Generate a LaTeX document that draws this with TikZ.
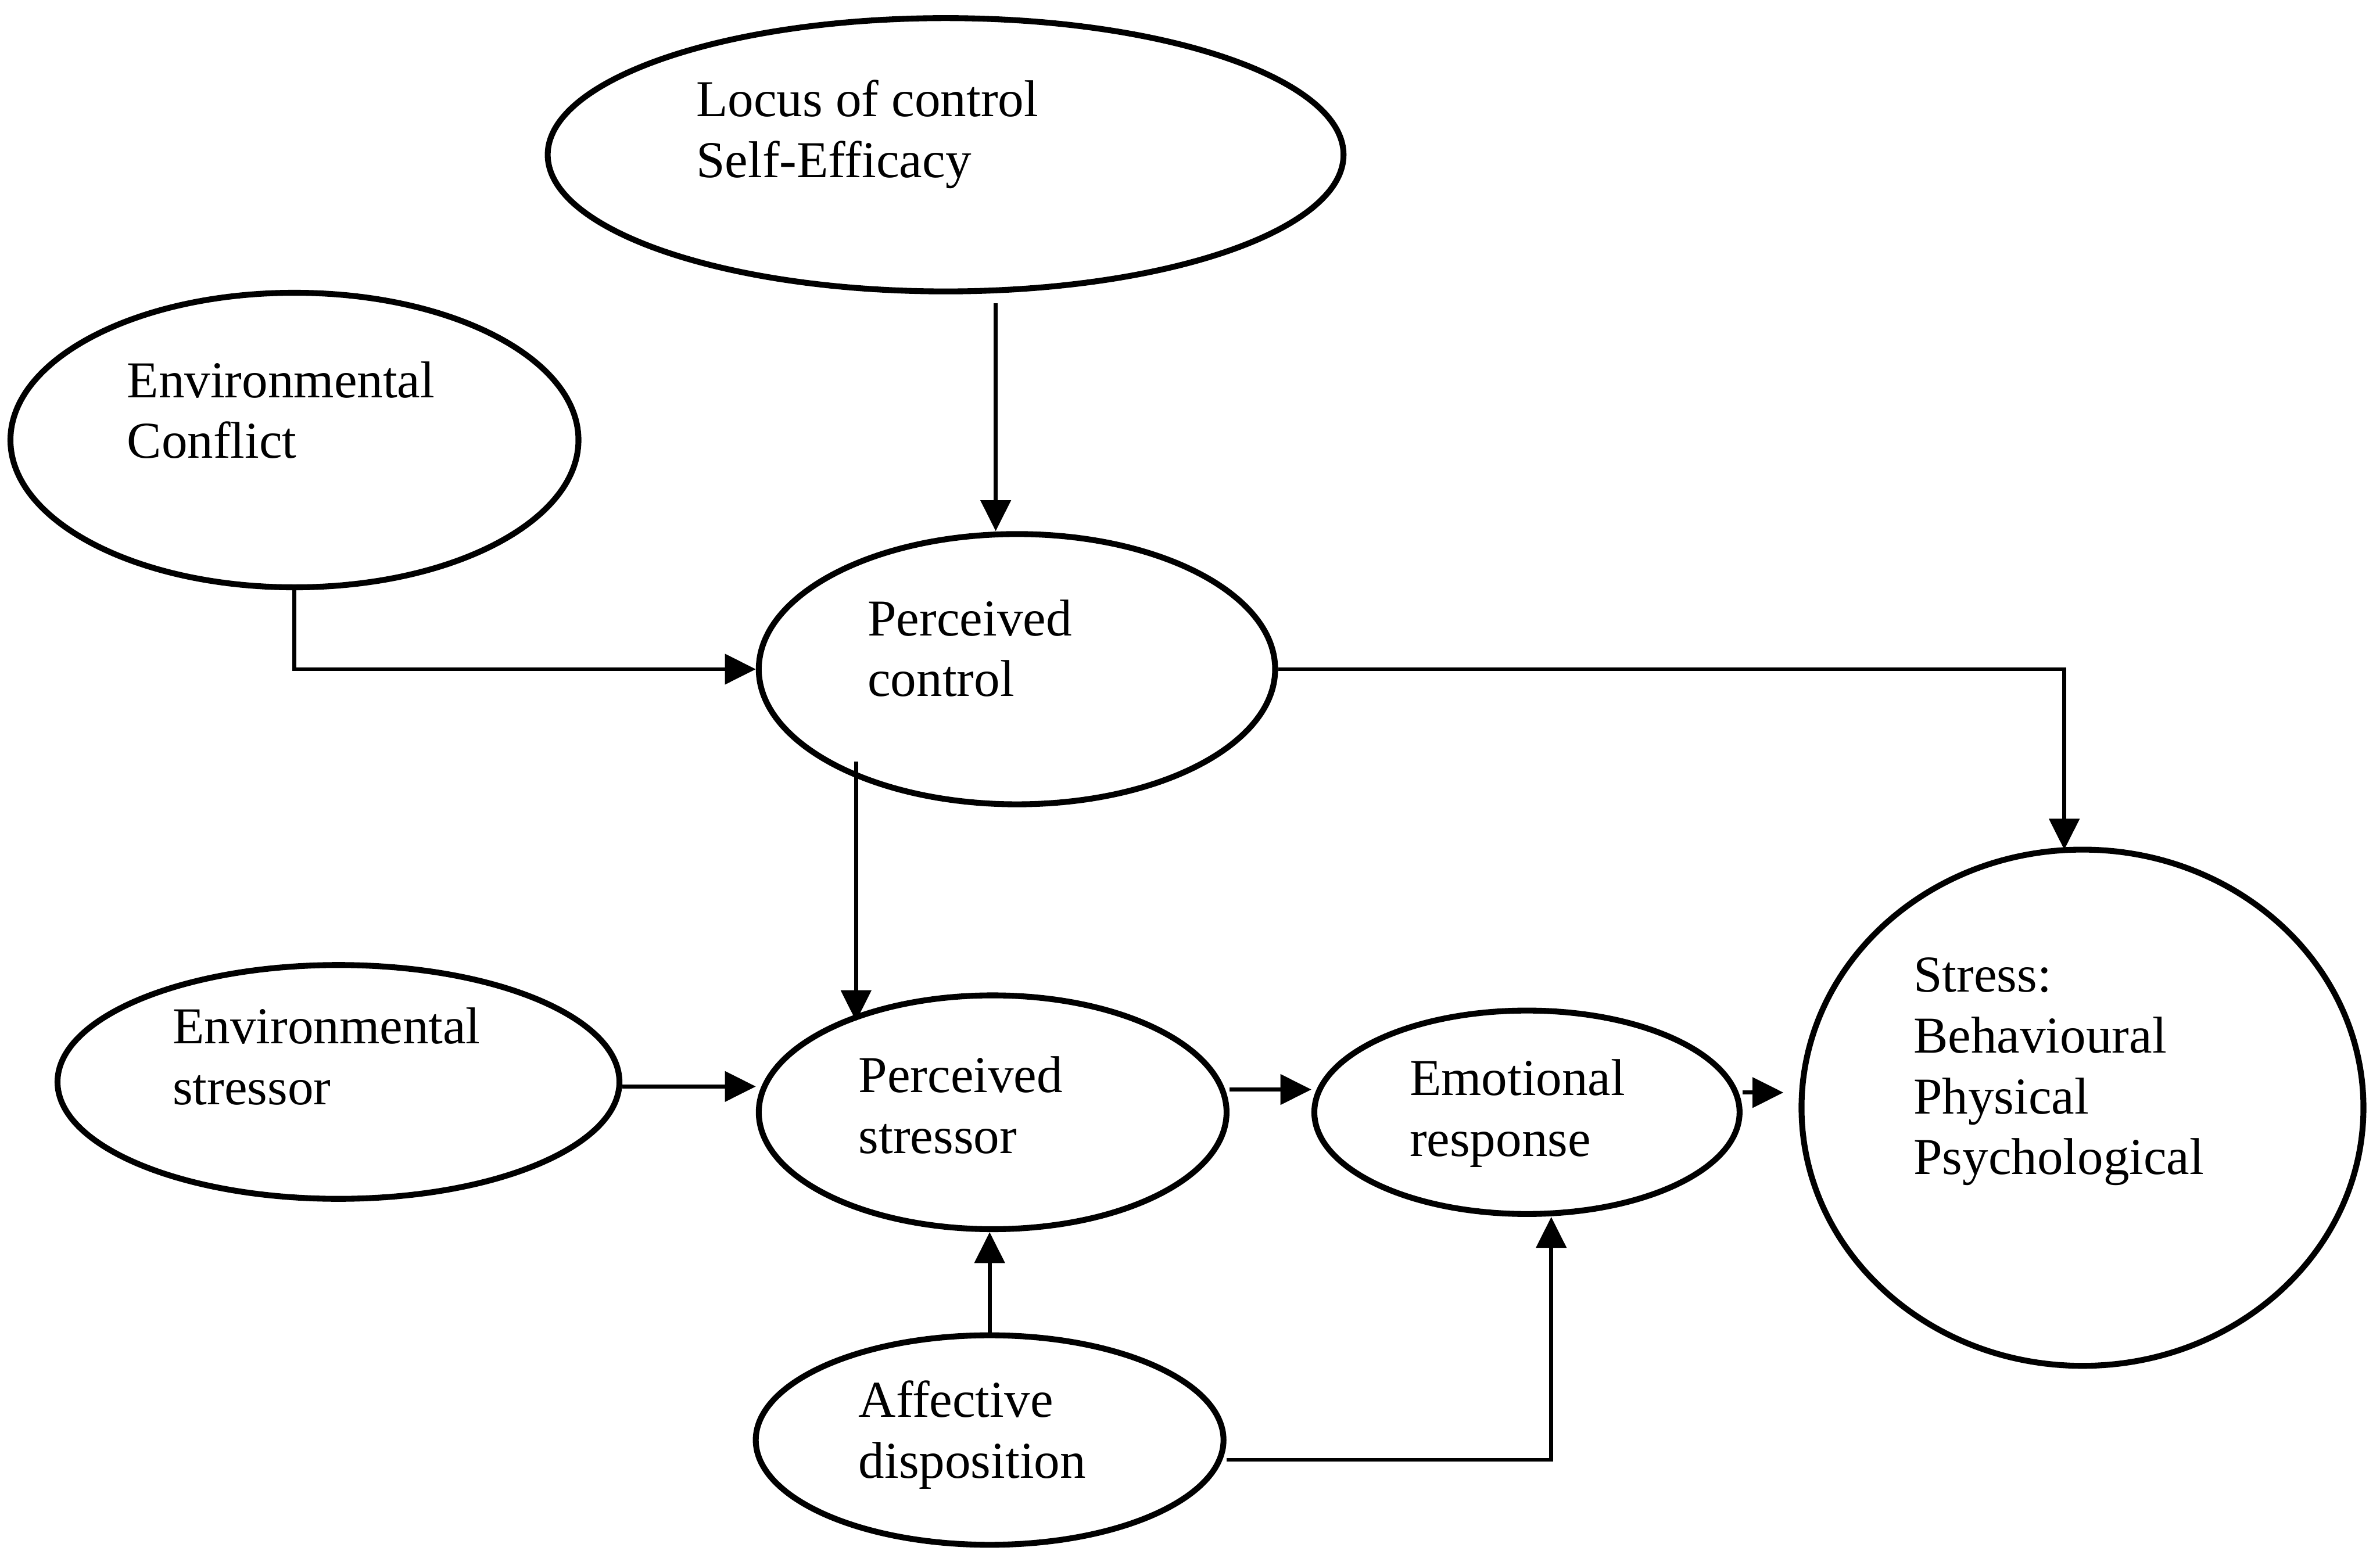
\documentclass[tikz,border=0pt]{standalone}
\usepackage{fontspec}
\setmainfont{Liberation Serif}
\usetikzlibrary{shapes.geometric,arrows.meta,calc}

\tikzset{
  blob/.style={draw, ellipse, line width=1.1pt, inner sep=0pt},
  % anchor sits on the baseline of the last line
  lbl/.style={anchor=base west, align=left, inner sep=0pt,
              font=\fontsize{9.7}{11.4}\selectfont},
  arr/.style={line width=0.75pt, -{Triangle[length=5.8pt,width=5.6pt]}}
}

\begin{document}
\begin{tikzpicture}[x=0.01cm, y=-0.01cm]
  \useasboundingbox (0,0) rectangle (1568,1022);

  % ovals
  \node[blob, minimum width=5.24cm, minimum height=1.80cm] (locus)  at (623,102) {};
  \node[blob, minimum width=3.74cm, minimum height=1.94cm] (envc)   at (194,290) {};
  \node[blob, minimum width=3.40cm, minimum height=1.78cm] (pc)     at (670,441) {};
  \node[blob, minimum width=3.70cm, minimum height=1.54cm] (envs)   at (223,713) {};
  \node[blob, minimum width=3.08cm, minimum height=1.54cm] (ps)     at (654,733) {};
  \node[blob, minimum width=2.80cm, minimum height=1.34cm] (er)     at (1006,733) {};
  \node[blob, minimum width=3.70cm, minimum height=3.40cm] (stress) at (1372,730) {};
  \node[blob, minimum width=3.08cm, minimum height=1.38cm] (aff)    at (652,949) {};

  % labels
  \node[lbl] (locus-t)  at (458,117)  {Locus of control\\Self-Efficacy};
  \node[lbl] (envc-t)   at (83,302)   {Environmental\\Conflict};
  \node[lbl] (pc-t)     at (571,459)  {Perceived\\control};
  \node[lbl] (envs-t)   at (113,728)  {Environmental\\stressor};
  \node[lbl] (ps-t)     at (565,760)  {Perceived\\stressor};
  \node[lbl] (er-t)     at (928,762)  {Emotional\\response};
  \node[lbl] (stress-t) at (1260,774) {Stress:\\Behavioural\\Physical\\Psychological};
  \node[lbl] (aff-t)    at (565,974)  {Affective\\disposition};

  % connectors
  \draw[arr] ($(locus.south)+(33,6)$) -- ($(pc.north)+(-14,0)$);
  \draw[arr] (envc.south) |- (pc.west);
  \draw[arr] (pc.east) -| ($(stress.north)+(-12,2)$);
  \draw[arr] ($(pc.center)+(-106,61)$) -- ($(ps.center)+(-90,-60)$);
  \draw[arr] ($(envs.east)+(0,3)$) -- ($(envs.east -| ps.west)+(0,3)$);
  \draw[arr] ($(ps.east)+(0,-15)$) -- ($(er.west)+(0,-15)$);
  \draw[arr] ($(er.east)+(0,-13)$) -- ($(stress.west)+(-10,-10)$);
  \draw[arr] (aff.north) -- (aff.north |- ps.south);
  \draw[arr] ($(aff.east)+(0,13)$) -| ($(er.south)+(16,0)$);
\end{tikzpicture}
\end{document}
